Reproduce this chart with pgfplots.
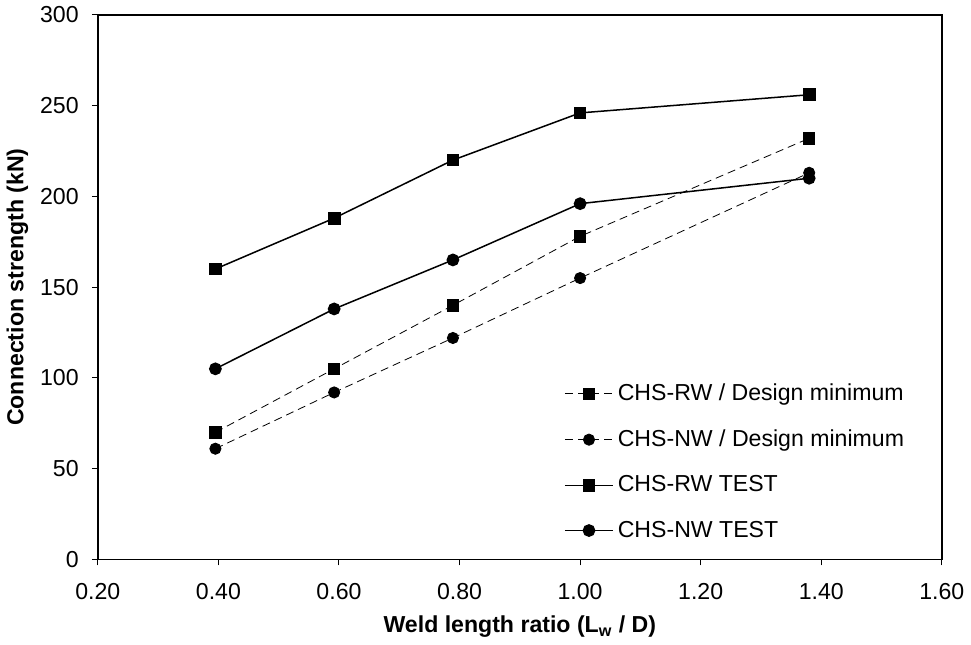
\documentclass[border=0pt]{standalone}
\usepackage{pgfplots}
\pgfplotsset{compat=1.18}
\usepackage{fontspec}
\setmainfont{Liberation Sans}
\begin{document}
\begin{tikzpicture}
\begin{axis}[
  width=420pt, height=271pt, scale only axis,
  xmin=0.2, xmax=1.6, ymin=0, ymax=300,
  xtick={0.2,0.4,0.6,0.8,1.0,1.2,1.4,1.6},
  ytick={0,50,100,150,200,250,300},
  xticklabel={\pgfmathprintnumber[fixed,fixed zerofill,precision=2]{\tick}},
  /pgf/number format/assume math mode=true,
  tick align=outside, xtick pos=bottom, ytick pos=left,
  major tick length=3pt,
  axis line style={line width=0.7pt},
  every tick/.style={black, line width=0.5pt},
  tick label style={font=\fontsize{11.5}{13}\selectfont},
  xticklabel style={yshift=-5.5pt},
  yticklabel style={xshift=-3pt},
  label style={font=\bfseries\fontsize{11.5}{13}\selectfont},
  xlabel={Weld length ratio (L\textsubscript{w} / D)},
  xlabel style={yshift=-1pt},
  ylabel={Connection strength (kN)},
  ylabel style={yshift=-1pt},
  legend style={draw=none, fill=none, at={(rel axis cs:0.545,0.02)}, anchor=south west,
    font=\fontsize{11.5}{13}\selectfont, row sep=9pt},
  legend cell align=left,
  legend image code/.code={\draw[mark repeat=2,mark phase=2,#1] plot coordinates {(0cm,0cm) (0.42cm,0cm) (0.84cm,0cm)};},
  design/.style={black, line width=0.4pt, dash pattern=on 4pt off 2.5pt, mark options={solid}, mark size=2.8pt},
  test/.style={black, line width=0.75pt, mark size=2.8pt},
]
% design minimum
\addplot[design, mark=square*] coordinates {(0.395,70) (0.592,105) (0.789,140) (1.00,178) (1.38,232)};
\addlegendentry{CHS-RW / Design minimum}
\addplot[design, mark=*] coordinates {(0.395,61) (0.592,92) (0.789,122) (1.00,155) (1.38,213)};
\addlegendentry{CHS-NW / Design minimum}
% tests
\addplot[test, mark=square*] coordinates {(0.395,160) (0.592,188) (0.789,220) (1.00,246) (1.38,256)};
\addlegendentry{CHS-RW TEST}
\addplot[test, mark=*] coordinates {(0.395,105) (0.592,138) (0.789,165) (1.00,196) (1.38,210)};
\addlegendentry{CHS-NW TEST}
\end{axis}
\end{tikzpicture}
\end{document}
